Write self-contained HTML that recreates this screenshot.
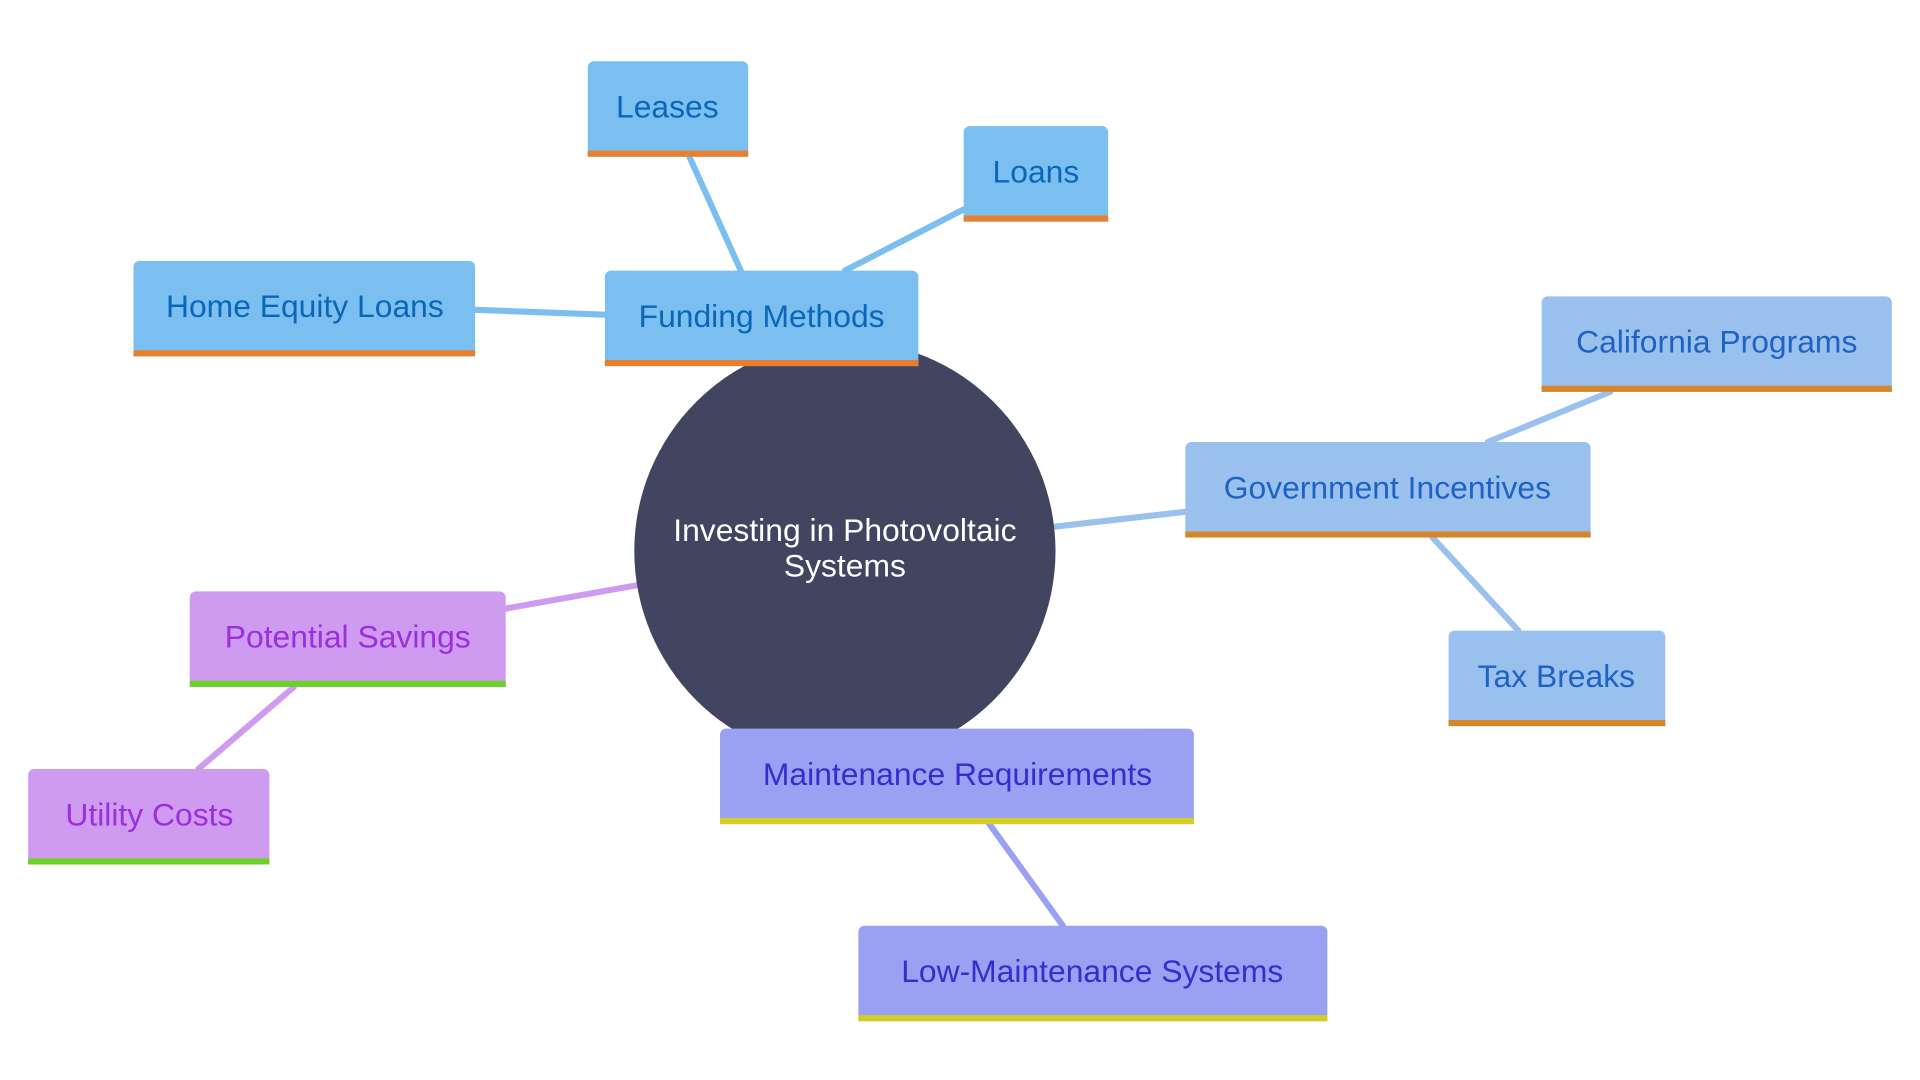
<!DOCTYPE html>
<html><head><meta charset="utf-8"><style>
html,body{margin:0;padding:0;background:#fff;width:1920px;height:1080px;overflow:hidden}
svg{display:block}
text{font-family:"Liberation Sans",sans-serif;font-size:26px;text-anchor:middle;dominant-baseline:central}
</style></head><body>
<svg width="1920" height="1080" viewBox="0 0 1568 882" preserveAspectRatio="none">
<g stroke-width="5" fill="none" stroke-linecap="round">
<line x1="563" y1="128" x2="605" y2="221" stroke="#7bbff0"/>
<line x1="787" y1="171" x2="690" y2="221" stroke="#7bbff0"/>
<line x1="388" y1="253" x2="494" y2="257" stroke="#7bbff0"/>
<line x1="690" y1="450" x2="622" y2="260" stroke="#7bbff0"/>
<line x1="862" y1="430" x2="968" y2="418" stroke="#9ac1ee"/>
<line x1="1315" y1="320" x2="1215" y2="361" stroke="#9ac1ee"/>
<line x1="1170" y1="439" x2="1240" y2="515" stroke="#9ac1ee"/>
<line x1="413" y1="497" x2="520" y2="478" stroke="#cf9bf0"/>
<line x1="240" y1="561" x2="162" y2="628" stroke="#cf9bf0"/>
<line x1="808" y1="673" x2="868" y2="756" stroke="#9aa0f2"/>
</g>
<circle cx="690" cy="450" r="172" fill="#414560"/>
<text x="690" y="433" fill="#fff" font-size="25">Investing in Photovoltaic</text>
<text x="690" y="462" fill="#fff" font-size="25">Systems</text>

<g>
<path d="M494 299V226a5 5 0 0 1 5-5H745a5 5 0 0 1 5 5V299Z" fill="#7bbff0"/><rect x="494" y="294" width="256" height="5" fill="#e77f2e"/>
<text x="622" y="258" fill="#0b66b8">Funding Methods</text>
<path d="M480 128V55a5 5 0 0 1 5-5H606a5 5 0 0 1 5 5V128Z" fill="#7bbff0"/><rect x="480" y="123" width="131" height="5" fill="#e77f2e"/>
<text x="545" y="87" fill="#0b66b8">Leases</text>
<path d="M787 181V108a5 5 0 0 1 5-5H900a5 5 0 0 1 5 5V181Z" fill="#7bbff0"/><rect x="787" y="176" width="118" height="5" fill="#e77f2e"/>
<text x="846" y="140" fill="#0b66b8">Loans</text>
<path d="M109 291V218a5 5 0 0 1 5-5H383a5 5 0 0 1 5 5V291Z" fill="#7bbff0"/><rect x="109" y="286" width="279" height="5" fill="#e77f2e"/>
<text x="249" y="250" fill="#0b66b8">Home Equity Loans</text>

<path d="M968 439V366a5 5 0 0 1 5-5H1294a5 5 0 0 1 5 5V439Z" fill="#9ac1ee"/><rect x="968" y="434" width="331" height="5" fill="#d5862a"/>
<text x="1133" y="398" fill="#1d62c4">Government Incentives</text>
<path d="M1259 320V247a5 5 0 0 1 5-5H1540a5 5 0 0 1 5 5V320Z" fill="#9ac1ee"/><rect x="1259" y="315" width="286" height="5" fill="#d5862a"/>
<text x="1402" y="279" fill="#1d62c4">California Programs</text>
<path d="M1183 593V520a5 5 0 0 1 5-5H1355a5 5 0 0 1 5 5V593Z" fill="#9ac1ee"/><rect x="1183" y="588" width="177" height="5" fill="#d5862a"/>
<text x="1271" y="552" fill="#1d62c4">Tax Breaks</text>

<path d="M155 561V488a5 5 0 0 1 5-5H408a5 5 0 0 1 5 5V561Z" fill="#cf9bf0"/><rect x="155" y="556" width="258" height="5" fill="#6cd22a"/>
<text x="284" y="520" fill="#9a2fdd">Potential Savings</text>
<path d="M23 706V633a5 5 0 0 1 5-5H215a5 5 0 0 1 5 5V706Z" fill="#cf9bf0"/><rect x="23" y="701" width="197" height="5" fill="#6cd22a"/>
<text x="122" y="665" fill="#9a2fdd">Utility Costs</text>

<path d="M588 673V600a5 5 0 0 1 5-5H970a5 5 0 0 1 5 5V673Z" fill="#9aa0f2"/><rect x="588" y="668" width="387" height="5" fill="#d6cd24"/>
<text x="782" y="632" fill="#3a2ccc">Maintenance Requirements</text>
<path d="M701 834V761a5 5 0 0 1 5-5H1079a5 5 0 0 1 5 5V834Z" fill="#9aa0f2"/><rect x="701" y="829" width="383" height="5" fill="#d6cd24"/>
<text x="892" y="793" fill="#3a2ccc">Low-Maintenance Systems</text>
</g>
</svg>
</body></html>
